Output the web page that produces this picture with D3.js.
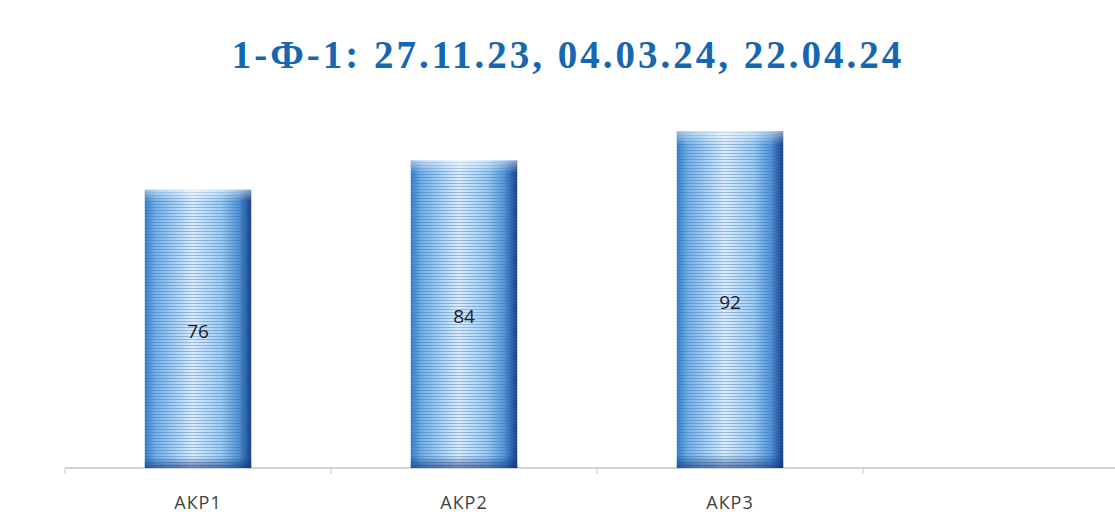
<!DOCTYPE html>
<html>
<head>
<meta charset="utf-8">
<script src="https://cdn.jsdelivr.net/npm/d3@7"></script>
<style>
  body { margin: 0; background: #fff; }
  svg { display: block; }
</style>
</head>
<body>
<div id="chart"></div>
<script>
// chart values
const categories = ["АКР1", "АКР2", "АКР3", ""];
const values = [76, 84, 92];
const title = "1-Ф-1: 27.11.23, 04.03.24, 22.04.24";

const width = 1115, height = 528;
const margin = {top: 102, right: 0, bottom: 60, left: 65};

const svg = d3.select("#chart")
  .append("svg")
    .attr("width", width)
    .attr("height", height);

const defs = svg.append("defs");

// horizontal gradient across the bar, dark on the right edge
const grad = defs.append("linearGradient")
    .attr("id", "barGrad")
    .attr("x1", "0%").attr("x2", "100%")
    .attr("y1", "0%").attr("y2", "0%");
[["0%", "#3a80c8"], ["10%", "#72b0e6"], ["45%", "#dcecfb"], ["72%", "#9dcbf0"], ["88%", "#5495d6"], ["100%", "#163c85"]]
  .forEach(s => grad.append("stop").attr("offset", s[0]).attr("stop-color", s[1]));

// scan-like horizontal stripes
const stripes = defs.append("pattern")
    .attr("id", "stripes")
    .attr("patternUnits", "userSpaceOnUse")
    .attr("width", 8).attr("height", 3);
stripes.append("rect")
    .attr("width", 8).attr("height", 1)
    .attr("fill", "#2f6fbc").attr("opacity", 0.4);

// top/bottom shade
const vgrad = defs.append("linearGradient")
    .attr("id", "vShade")
    .attr("x1", "0%").attr("x2", "0%")
    .attr("y1", "0%").attr("y2", "100%");
[["0%", "#ffffff", 0.5], ["4%", "#ffffff", 0], ["96%", "#0b2f78", 0], ["100%", "#0b2f78", 0.6]]
  .forEach(s => vgrad.append("stop").attr("offset", s[0]).attr("stop-color", s[1]).attr("stop-opacity", s[2]));

const x = d3.scaleBand()
    .domain(categories)
    .range([margin.left, margin.left + 266 * categories.length])
    .paddingInner(0.6)
    .paddingOuter(0.3);

const y = d3.scaleLinear()
    .domain([0, 100])
    .range([height - margin.bottom, margin.top]);

// title
svg.append("text")
    .attr("x", 568)
    .attr("y", 68)
    .attr("text-anchor", "middle")
    .attr("font-family", "'Liberation Serif', 'DejaVu Serif', serif")
    .attr("font-weight", "bold")
    .attr("font-size", 39)
    .attr("letter-spacing", 3)
    .attr("fill", "#1766b0")
    .text(title);

// x axis
const xAxis = svg.append("g")
    .attr("transform", "translate(0," + y(0) + ")");
xAxis.append("line")
    .attr("x1", margin.left).attr("x2", width)
    .attr("stroke", "#c4c4c4").attr("stroke-width", 1.5);
xAxis.selectAll("line.tick")
  .data(categories)
  .enter()
  .append("line")
    .attr("class", "tick")
    .attr("x1", d => x(d) - x.step() * x.paddingInner() / 2)
    .attr("x2", d => x(d) - x.step() * x.paddingInner() / 2)
    .attr("y1", 0).attr("y2", 6)
    .attr("stroke", "#c4c4c4");
xAxis.selectAll("text")
  .data(categories)
  .enter()
  .append("text")
    .attr("x", d => x(d) + x.bandwidth() / 2)
    .attr("y", 41)
    .attr("text-anchor", "middle")
    .attr("font-family", "'Open Sans', 'Liberation Sans', sans-serif")
    .attr("font-size", 18)
    .attr("letter-spacing", 1)
    .attr("fill", "#404040")
    .text(d => d);

// bars
const bars = svg.append("g")
  .selectAll("g")
  .data(values)
  .enter()
  .append("g");

bars.append("rect")
    .attr("x", (d, i) => x(categories[i]))
    .attr("y", d => y(d))
    .attr("width", x.bandwidth())
    .attr("height", d => y(0) - y(d))
    .attr("fill", "url(#barGrad)");
bars.append("rect")
    .attr("x", (d, i) => x(categories[i]))
    .attr("y", d => y(d))
    .attr("width", x.bandwidth())
    .attr("height", d => y(0) - y(d))
    .attr("fill", "url(#stripes)");
bars.append("rect")
    .attr("x", (d, i) => x(categories[i]))
    .attr("y", d => y(d))
    .attr("width", x.bandwidth())
    .attr("height", d => y(0) - y(d))
    .attr("fill", "url(#vShade)");

// value labels
bars.append("text")
    .attr("x", (d, i) => x(categories[i]) + x.bandwidth() / 2)
    .attr("y", d => (y(d) + y(0)) / 2 + 9)
    .attr("text-anchor", "middle")
    .attr("font-family", "'Open Sans', 'Liberation Sans', sans-serif")
    .attr("font-size", 19)
    .attr("fill", "#1a1a2a")
    .text(d => d);
</script>
</body>
</html>
